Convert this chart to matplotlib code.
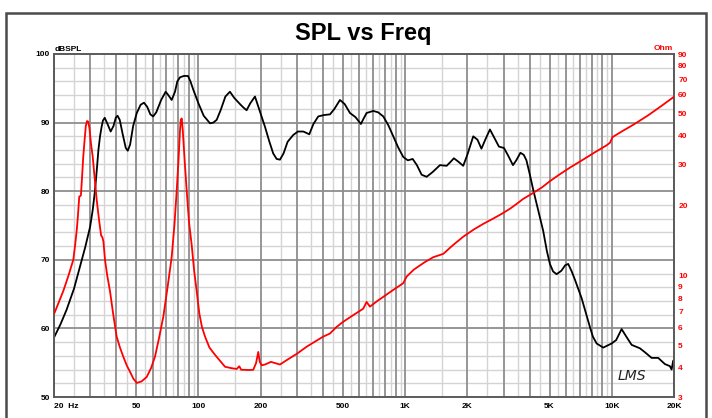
import matplotlib
matplotlib.use("Agg")
import matplotlib.pyplot as plt
from matplotlib.patches import Rectangle
from matplotlib.ticker import FixedLocator, NullFormatter
import numpy as np

plt.rcParams['font.family'] = ['Liberation Sans', 'DejaVu Sans']

# ---------------- data ----------------
spl_freq = [20.1, 21.5, 23.0, 25.0, 26.7, 28.3, 29.9, 30.8, 31.6, 32.2, 32.8, 33.4, 34.0,
            34.5, 35.2, 36.3, 37.6, 38.8, 39.8, 40.6, 41.6, 43.0, 44.5, 45.5, 46.7, 48.3,
            50.3, 52.5, 54.5, 56.5, 58.5, 60.4, 62.5, 66.0, 69.4, 71.5, 74.2, 77.0, 79.0,
            81.4, 85.0, 89.0, 91.5, 94.4, 100, 106, 113.7, 118, 122.5, 128, 135, 142,
            149, 158.8, 165, 171, 178, 187.7, 194, 200, 209.8, 220, 230, 239, 248, 258,
            270, 287.6, 303, 321.6, 343.8, 360, 380, 405, 432.8, 455, 483.8, 510, 540.8,
            575, 611, 630, 651, 701, 740, 784, 830, 876, 925, 979, 1030, 1088, 1140,
            1202, 1271, 1360, 1474, 1588, 1650, 1722, 1810, 1910, 2000, 2136, 2240,
            2340, 2450, 2573, 2700, 2844, 3008, 3150, 3325, 3450, 3614, 3750, 3864,
            4000, 4168, 4658, 4850, 5018, 5200, 5408, 5700, 5950, 6154, 6400, 6632,
            7146, 7838, 8100, 8448, 9090, 9980, 10500, 11158, 11700, 12472, 13678,
            14500, 15580, 16772, 18072, 19108, 19472, 19822, 20000]
spl_db = [58.8, 60.6, 62.7, 65.8, 69.0, 71.8, 74.8, 77.3, 80.2, 83.0, 86.0, 88.0, 89.4,
          90.3, 90.7, 89.8, 88.7, 89.5, 90.7, 91.0, 90.4, 88.3, 86.3, 85.9, 86.8, 89.5,
          91.4, 92.6, 92.9, 92.3, 91.2, 90.9, 91.5, 93.3, 94.5, 94.0, 93.3, 94.5, 96.0,
          96.6, 96.8, 96.8, 96.0, 94.8, 92.8, 91.0, 89.9, 90.0, 90.4, 91.8, 93.8, 94.5,
          93.6, 92.7, 92.2, 91.8, 92.8, 93.8, 92.5, 91.3, 89.4, 87.3, 85.5, 84.7, 84.6, 85.5,
          87.2, 88.2, 88.7, 88.7, 88.3, 89.8, 90.9, 91.1, 91.2, 92.0, 93.3, 92.7, 91.4,
          90.8, 89.8, 90.6, 91.4, 91.7, 91.5, 90.9, 89.6, 88.0, 86.4, 85.0, 84.5, 84.7, 83.8,
          82.4, 82.1, 82.8, 83.8, 83.7, 84.2, 84.8, 84.3, 83.7, 85.3, 88.0, 87.5,
          86.2, 87.6, 89.0, 87.8, 86.5, 86.3, 85.2, 83.8, 84.5, 85.6, 85.3, 84.5,
          82.6, 80.2, 74.2, 71.3, 69.4, 68.3, 67.9, 68.4, 69.2, 69.4, 68.3, 67.1,
          64.4, 60.2, 58.8, 57.8, 57.2, 57.8, 58.3, 59.9, 58.9, 57.6, 57.1,
          56.5, 55.7, 55.7, 54.8, 54.5, 54.0, 55.3, 54.2]

imp_freq = [20.1, 21.0, 22.2, 23.5, 24.8, 25.3, 25.77, 26.1, 26.5, 26.8, 27.0, 27.3, 27.7,
            28.1, 28.5, 28.9, 29.3, 29.7, 30.2, 30.8, 31.5, 32.2, 33.0, 33.8, 34.3, 34.7,
            35.3, 36.2, 37.3, 38.7, 40.2, 41.7, 43.3, 45.0, 46.6, 48.4, 50.3, 53.0, 56.2,
            59.0, 61.6, 64.5, 67.6, 71.0, 74.2, 76.5, 78.5, 80.0, 81.4, 82.2, 83.0, 84.0,
            85.8, 87.7, 90.0, 92.7, 95.3, 98.0, 101, 104, 107.6, 113, 120.2, 127, 134.4,
            143, 153.1, 157.6, 161, 164.8, 175, 184.2, 190, 194.7, 198, 202.2, 209.8,
            224.3, 248, 270, 298.8, 335, 373.3, 400, 432.8, 465, 501, 560, 627, 651,
            675.8, 730, 784, 880, 979, 1017, 1100, 1240, 1368, 1529, 1700, 1910, 2150,
            2388, 2669, 2950, 3215, 3500, 3729, 4168, 4600, 5018, 5600, 6400, 7273,
            8300, 9440, 9793, 10094, 11200, 12696, 15000, 17500, 20000]
imp_ohm = [6.9, 7.6, 8.6, 10.0, 11.7, 13.5, 15.7, 18.0, 21.9, 22.0, 22.2, 26.0, 32.4,
           38.0, 44.0, 46.3, 46.0, 43.0, 37.0, 32.4, 26.0, 21.1, 17.5, 14.9, 14.6, 14.0,
           11.7, 10.0, 8.6, 6.8, 5.46, 4.9, 4.47, 4.1, 3.86, 3.6, 3.45, 3.5, 3.66,
           4.0, 4.47, 5.4, 6.65, 9.0, 12.0, 16.5, 23.3, 31.0, 42.0, 47.0, 47.5, 42.0,
           31.0, 23.3, 17.0, 13.6, 10.5, 8.6, 6.86, 6.0, 5.46, 4.9, 4.56, 4.3, 4.05,
           4.0, 3.96, 4.07, 3.93, 3.93, 3.92, 3.93, 4.2, 4.69, 4.25, 4.11, 4.14,
           4.25, 4.14, 4.35, 4.6, 4.95, 5.25, 5.45, 5.63, 6.0, 6.32, 6.75, 7.2, 7.7,
           7.35, 7.75, 8.1, 8.7, 9.27, 9.9, 10.6, 11.4, 12.0, 12.4, 13.5, 14.7, 15.8,
           16.7, 17.6, 18.5, 19.4, 20.5, 21.4, 22.7, 24.0, 25.5, 27.3, 29.5, 31.6,
           34.0, 36.4, 37.3, 39.5, 41.8, 44.6, 49.0, 54.0, 58.9]

x_tick_vals = [20, 50, 100, 200, 500, 1000, 2000, 5000, 10000, 20000]
x_tick_labels = ["20  Hz", "50", "100", "200", "500", "1K", "2K", "5K", "10K", "20K"]
y_tick_vals = [50, 60, 70, 80, 90, 100]
ohm_tick_vals = [3, 4, 5, 6, 7, 8, 9, 10, 20, 30, 40, 50, 60, 70, 80, 90]

title = "SPL vs Freq"

# ---------------- figure ----------------
W, H = 712, 418
fig = plt.figure(figsize=(W / 100, H / 100), dpi=100)
fig.patch.set_facecolor('white')

# outer frame
fig.patches.append(Rectangle((6 / W, -0.05), 700 / W, 1 - 13 / H + 0.05,
                             transform=fig.transFigure, fill=False,
                             edgecolor='#4a4a4a', linewidth=1.8, zorder=0))

L, R, T, B = 54, 674, 54, 397
ax = fig.add_axes([L / W, 1 - B / H, (R - L) / W, (B - T) / H])
ax.set_xscale('log')
ax.set_xlim(20, 20000)
ax.set_ylim(50, 100)

# grid lines
dark_x = [k * 10 ** n for n in range(1, 5) for k in range(1, 10) if 20 <= k * 10 ** n <= 20000]
light_x = [(k + 0.5) * 10 ** n for n in range(1, 4) for k in range(1, 10) if 20 < (k + 0.5) * 10 ** n < 20000]
for xv in light_x:
    ax.axvline(xv, color='#d4d4d4', lw=1.0, zorder=1)
for yv in np.arange(52, 100, 2):
    if yv % 10 != 0:
        ax.axhline(yv, color='#d4d4d4', lw=1.0, zorder=1)
for xv in dark_x:
    ax.axvline(xv, color='#8e8e8e', lw=1.3, zorder=2)
for yv in [60, 70, 80, 90]:
    ax.axhline(yv, color='#8e8e8e', lw=1.3, zorder=2)

ax.plot(spl_freq, spl_db, color='black', lw=1.3, zorder=5)

ax.xaxis.set_major_locator(FixedLocator(x_tick_vals))
ax.xaxis.set_minor_formatter(NullFormatter())
ax.xaxis.set_minor_locator(FixedLocator([]))
ax.set_xticklabels(x_tick_labels)
ax.set_yticks(y_tick_vals)
ax.set_yticklabels([str(v) for v in y_tick_vals])
ax.tick_params(axis='both', length=0, labelsize=6)
ax.tick_params(axis='x', pad=4)
ax.tick_params(axis='y', pad=3)
for lab in ax.get_xticklabels() + ax.get_yticklabels():
    lab.set_fontweight('bold')
ax.get_xticklabels()[0].set_horizontalalignment('left')
for s in ax.spines.values():
    s.set_color('#5a5a5a')
    s.set_linewidth(1.4)
    s.set_zorder(6)

ax2 = ax.twinx()
ax2.set_yscale('log')
ax2.set_ylim(3, 90)
ax2.plot(imp_freq, imp_ohm, color='#ff0000', lw=1.3, zorder=4)
ax2.yaxis.set_major_locator(FixedLocator(ohm_tick_vals))
ax2.yaxis.set_minor_locator(FixedLocator([]))
ax2.set_yticklabels([str(v) for v in ohm_tick_vals])
ax2.tick_params(axis='y', length=0, labelsize=6, labelcolor='#ff0000', pad=3)
for lab in ax2.get_yticklabels():
    lab.set_fontweight('bold')
for s in ax2.spines.values():
    s.set_visible(False)

fig.text(363 / W, 1 - 40 / H, title, ha='center', va='baseline',
         fontsize=17, fontweight='bold')
fig.text(55 / W, 1 - 51 / H, "dBSPL", ha='left', va='baseline',
         fontsize=6, fontweight='bold')
fig.text(673 / W, 1 - 50 / H, "Ohm", ha='right', va='baseline',
         fontsize=6, fontweight='bold', color='#ff0000')
ax.text(0.955, 0.04, "LMS", transform=ax.transAxes, ha='right', va='bottom',
        fontsize=10, fontstyle='italic', family='DejaVu Sans',
        fontweight='light', color='#222222', zorder=7)

fig.savefig('out.png', dpi=100)
